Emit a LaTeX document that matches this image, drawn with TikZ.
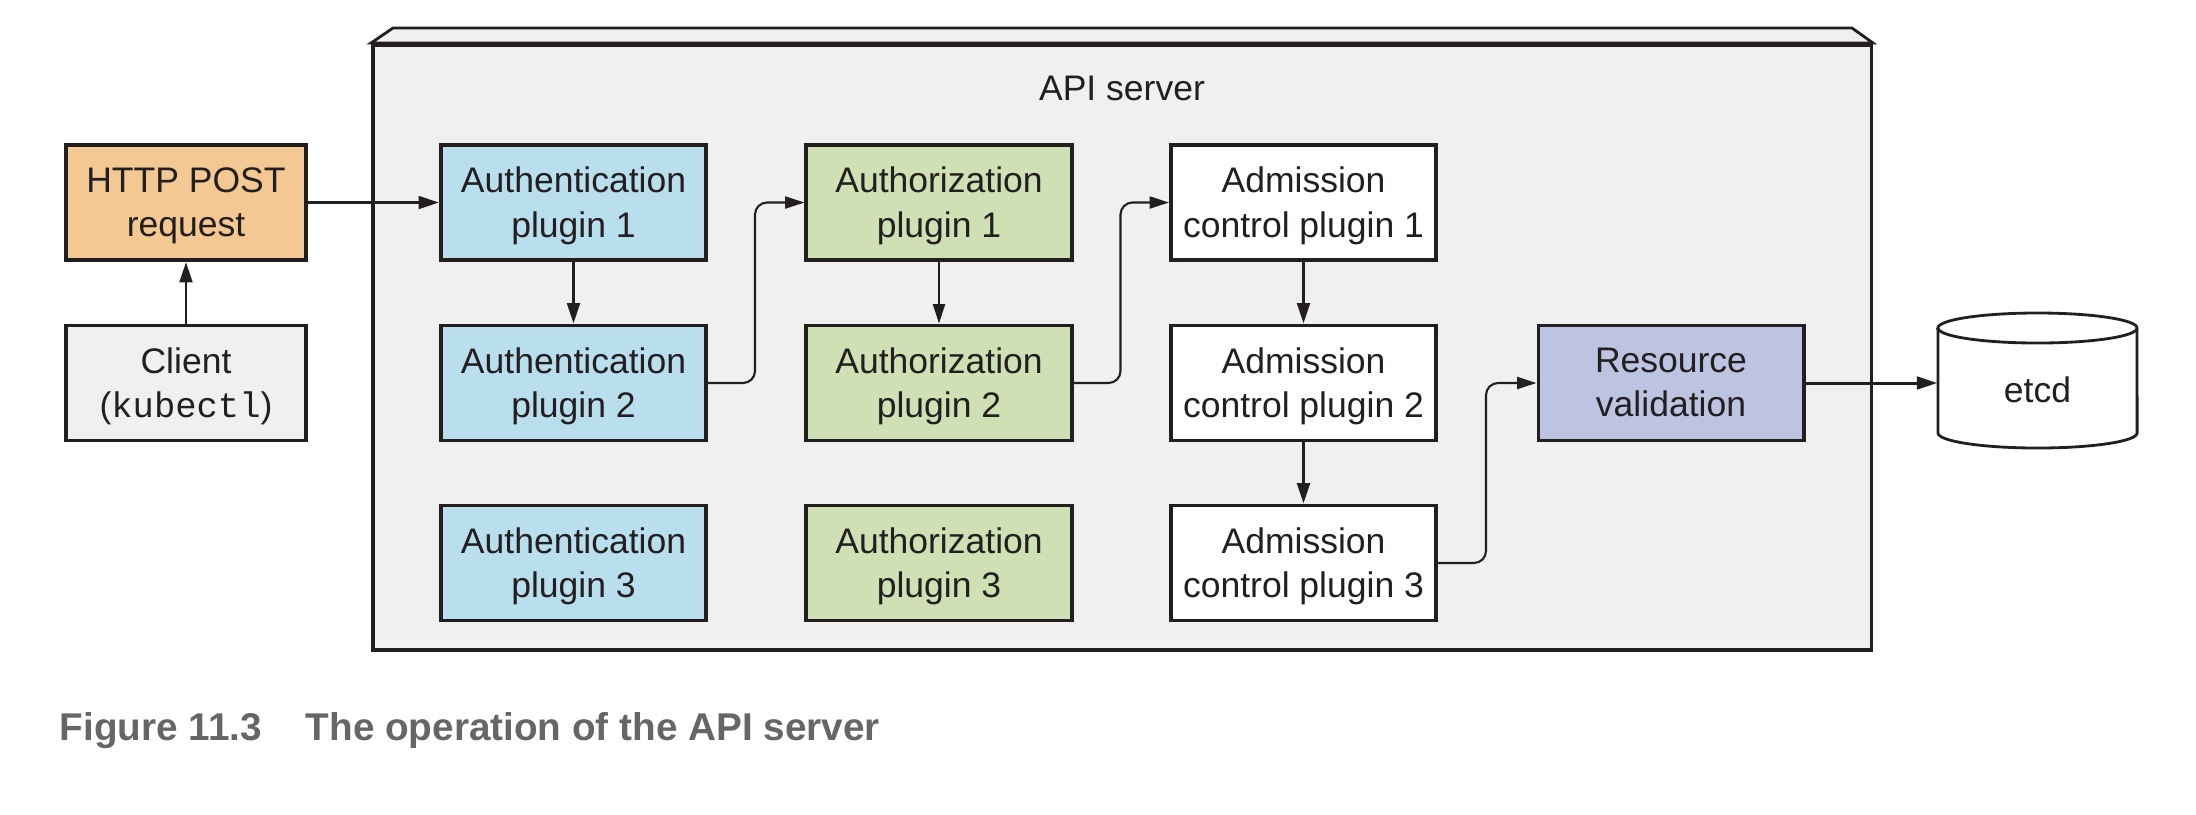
\documentclass[tikz,border=0pt]{standalone}
\usepackage{fontspec}
\setmainfont{Liberation Sans}
\setmonofont{Liberation Mono}
\usetikzlibrary{arrows.meta}
\definecolor{ink}{HTML}{231F20}
\definecolor{srvfill}{HTML}{F0F0F0}
\definecolor{httpfill}{HTML}{F4C892}
\definecolor{authnfill}{HTML}{B9DFEE}
\definecolor{authzfill}{HTML}{CFE0B4}
\definecolor{resfill}{HTML}{BCC4E2}
\definecolor{capgray}{HTML}{666666}
\begin{document}
\begin{tikzpicture}[x=0.01cm,y=-0.01cm,
  box/.style={draw=ink, line width=1.1pt, minimum width=2.65cm, minimum height=1.15cm,
    align=center, inner sep=0pt, text=ink, text depth=0.3pt, font=\fontsize{10.1}{12.6}\selectfont},
  smallbox/.style={box, minimum width=2.40cm},
  arr/.style={draw=ink, line width=0.85pt, -{Triangle[length=5.8pt,width=3.6pt]}},
  thinarr/.style={draw=ink, line width=0.6pt, -{Triangle[length=5.5pt,width=3.4pt]}},
  elbow/.style={thinarr, rounded corners=0.12cm},
  lbl/.style={text=ink, inner sep=0pt, font=\fontsize{10.1}{12.6}\selectfont},
]
\useasboundingbox (0,0) rectangle (2196,814);
\fill[white] (0,0) rectangle (2196,814);
% API server block
\draw[ink, line width=0.8pt, fill=srvfill] (371,43) -- (393,28) -- (1852,28) -- (1873,43) -- cycle;
\node[draw=ink, line width=1.1pt, fill=srvfill, minimum width=14.98cm, minimum height=6.05cm, inner sep=0pt] (server) at (1122,347.5) {};
\node[lbl, anchor=base] (srvlabel) at (1122,100) {API server};
% outside boxes
\node[smallbox, fill=httpfill] (http) at (186,202.5) {HTTP POST\\request};
\node[smallbox, fill=srvfill] (client) at (186,383) {Client\\(\texttt{kubectl})};
% authentication
\node[box, fill=authnfill] (auth1) at (573.5,202.5) {Authentication\\plugin 1};
\node[box, fill=authnfill] (auth2) at (573.5,383) {Authentication\\plugin 2};
\node[box, fill=authnfill] (auth3) at (573.5,563) {Authentication\\plugin 3};
% authorization
\node[box, fill=authzfill] (authz1) at (939,202.5) {Authorization\\plugin 1};
\node[box, fill=authzfill] (authz2) at (939,383) {Authorization\\plugin 2};
\node[box, fill=authzfill] (authz3) at (939,563) {Authorization\\plugin 3};
% admission
\node[box, fill=white] (adm1) at (1303.5,202.5) {Admission\\control plugin 1};
\node[box, fill=white] (adm2) at (1303.5,383) {Admission\\control plugin 2};
\node[box, fill=white] (adm3) at (1303.5,563) {Admission\\control plugin 3};
% resource validation
\node[box, fill=resfill] (res) at (1671,383) {Resource\\validation};
% etcd cylinder
\draw[ink, line width=0.8pt, fill=white] (1938,328) -- (1938,433)
  arc[start angle=180, end angle=360, x radius=0.995cm, y radius=0.15cm] -- (2137,328)
  arc[start angle=0, end angle=180, x radius=0.995cm, y radius=0.15cm] -- cycle;
\draw[ink, line width=0.8pt] (1938,328) arc[start angle=180, end angle=360, x radius=0.995cm, y radius=0.15cm];
\node[lbl, minimum width=1.99cm, minimum height=1.20cm] (etcd) at (2037.5,390) {etcd};
% connectors
\draw[arr] (client) -- (http);
\draw[arr] (http) -- (auth1);
\draw[arr] (auth1) -- (auth2);
\draw[elbow] (auth2.east) -- ++(47,0) |- (authz1.west);
\draw[thinarr] (authz1) -- (authz2);
\draw[elbow] (authz2.east) -- ++(47,0) |- (adm1.west);
\draw[arr] (adm1) -- (adm2);
\draw[arr] (adm2) -- (adm3);
\draw[elbow] (adm3.east) -- ++(48,0) |- (res.west);
\draw[arr] (res.east) -- (res.east -| etcd.west);
% caption
\node[anchor=base west, inner sep=0pt, text=capgray, font=\fontsize{11}{13}\selectfont\bfseries] (cap) at (59,740) {Figure 11.3\hspace{12.5pt}The operation of the API server};
\end{tikzpicture}
\end{document}
